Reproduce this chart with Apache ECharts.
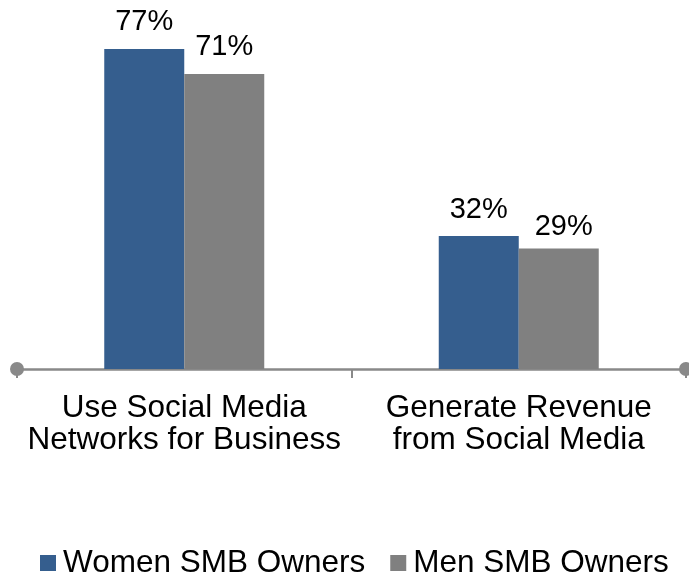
<!DOCTYPE html>
<html>
<head>
<meta charset="utf-8">
<script src="https://cdn.jsdelivr.net/npm/echarts@6/dist/echarts.min.js"></script>
<style>
  html, body { margin: 0; padding: 0; background: #ffffff; }
  #chart { width: 689px; height: 576px; }
</style>
</head>
<body>
<div id="chart"></div>
<script>
// Share of small and medium business owners, by gender
const categories = ['Use Social Media\nNetworks for Business', 'Generate Revenue\nfrom Social Media'];
const women = [77, 32];
const men = [71, 29];
const seriesNames = ['Women SMB Owners', 'Men SMB Owners'];

const FONT = '"Liberation Sans", Arial, sans-serif';
const chart = echarts.init(document.getElementById('chart'), null, { renderer: 'canvas' });

const labelStyle = {
  show: true,
  position: 'top',
  distance: 12,
  formatter: p => p.value + '%',
  fontFamily: FONT,
  fontSize: 29,
  color: '#000000'
};

// The last men's label sits slightly lower and to the right of its bar
const menData = men.map((v, i) =>
  i === men.length - 1 ? { value: v, label: { offset: [5, 5] } } : v
);

chart.setOption({
  animation: false,
  backgroundColor: '#ffffff',
  grid: { left: 17, right: 3, top: 36.5, bottom: 207, containLabel: false },
  legend: {
    top: 547,
    left: 40,
    padding: 0,
    itemWidth: 16,
    itemHeight: 16,
    itemGap: 25,
    icon: 'rect',
    textStyle: { fontFamily: FONT, fontSize: 31.5, color: '#000000', padding: [0, 0, 0, 2] },
    data: seriesNames
  },
  xAxis: {
    type: 'category',
    data: categories,
    axisLine: {
      show: true,
      symbol: ['circle', 'circle'],
      symbolSize: [14, 14],
      lineStyle: { color: '#898989', width: 2.5 }
    },
    axisTick: { show: true, length: 9, lineStyle: { color: '#898989', width: 2 } },
    axisLabel: {
      fontFamily: FONT,
      fontSize: 31.5,
      lineHeight: 32,
      color: '#000000',
      margin: 23,
      interval: 0
    }
  },
  yAxis: {
    type: 'value',
    min: 0,
    max: 80,
    show: false,
    splitLine: { show: false }
  },
  series: [
    {
      name: seriesNames[0],
      type: 'bar',
      data: women,
      barWidth: 80,
      barGap: '0%',
      itemStyle: { color: '#355E8E' },
      label: labelStyle
    },
    {
      name: seriesNames[1],
      type: 'bar',
      data: menData,
      barWidth: 80,
      barGap: '0%',
      itemStyle: { color: '#808080' },
      label: labelStyle
    }
  ]
});
</script>
</body>
</html>
